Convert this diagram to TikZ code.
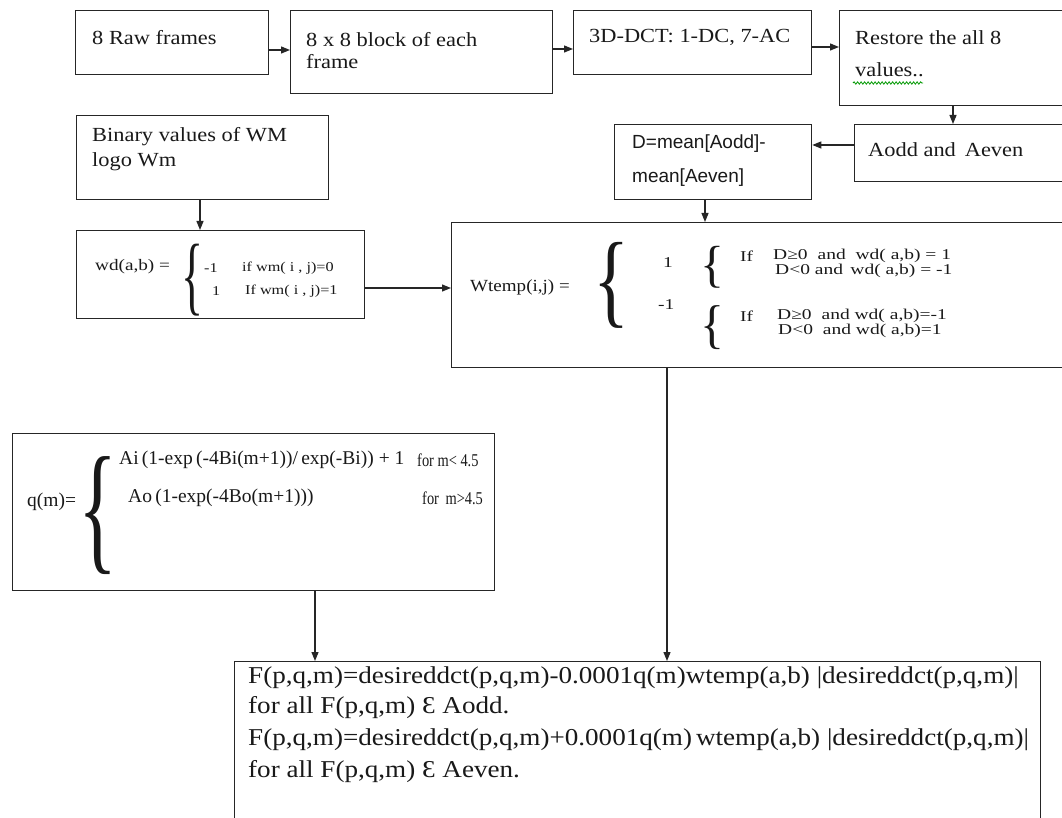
\documentclass[tikz,border=0pt]{standalone}
\usepackage{fontspec}
\usepackage{graphicx}
\usetikzlibrary{arrows.meta,decorations.pathmorphing}
\setmainfont{Liberation Serif}
\newfontfamily\bdf[FakeStretch=1.12]{Liberation Serif}
\newfontfamily\fmf[FakeStretch=1.3]{Liberation Serif}
\newfontfamily\fmg[FakeStretch=1.2]{Liberation Serif}
\newfontfamily\fmh[FakeStretch=1.12]{Liberation Serif}
\newfontfamily\cnf[FakeStretch=0.8]{Liberation Serif}
\newfontfamily\saf{Liberation Sans}
\newcommand\bodytxt{\bdf\fontsize{20}{24}\selectfont}
\newcommand\bigtxt{\bdf\fontsize{24.2}{30}\selectfont}
\newcommand\sanstxt{\saf\fontsize{19}{23}\selectfont}
\newcommand\wdlbl{\fmg\fontsize{16}{18}\selectfont}
\newcommand\wdtxt{\fmg\fontsize{13.5}{16}\selectfont}
\newcommand\wtlbl{\fmh\fontsize{17}{19}\selectfont}
\newcommand\wttxt{\fmf\fontsize{15}{17}\selectfont}
\newcommand\qtxt{\rmfamily\fontsize{19.5}{22}\selectfont}
\newcommand\qfor{\cnf\fontsize{18}{20}\selectfont}
\newcommand\mybrace[2]{\resizebox*{#1pt}{#2pt}{\rmfamily\fontsize{20}{20}\selectfont\{}}
\newcommand\boxnode[5]{\node[bx, minimum width={(#4-#2)*1pt}, minimum height={(#5-#3)*1pt}] (#1) at (#2,#3) {};}
\tikzset{
  bx/.style={draw=black!85, line width=1.3pt, rectangle, inner sep=0pt, anchor=north west},
  conn/.style={draw=black!85, line width=1.2pt, -{Triangle[length=9pt,width=7pt]}},
  lbl/.style={inner sep=0pt, anchor=base west, text=black!90},
  fml/.style={inner sep=0pt, anchor=west, text=black!90},
  brc/.style={inner sep=0pt, anchor=center, text=black!90},
}
\begin{document}
\begin{tikzpicture}[x=1pt,y=-1pt]
\useasboundingbox (0,0) rectangle (1062,818);
\clip (0,0) rectangle (1062,818);
\fill[white] (0,0) rectangle (1062,818);
% boxes
\boxnode{b1}{75}{10}{268}{74}
\boxnode{b2}{290}{10}{552}{93}
\boxnode{b3}{573}{10}{811}{74}
\boxnode{b4}{839}{10}{1080}{105}
\boxnode{b5}{854}{124}{1080}{181}
\boxnode{b6}{614}{124}{811}{199}
\boxnode{b7}{76}{115}{328}{199}
\boxnode{b8}{76}{230}{364}{318}
\boxnode{b9}{451}{222}{1080}{367}
\boxnode{b10}{12}{433}{494}{590}
\boxnode{b11}{234}{661}{1040}{840}
% box texts
\node[lbl,font=\bodytxt] (t1) at (92,45) {8 Raw frames};
\node[lbl,font=\bodytxt] (t2a) at (306,47) {8 x 8 block of each};
\node[lbl,font=\bodytxt] (t2b) at (306,69) {frame};
\node[lbl,font=\bodytxt] (t3) at (589,43) {3D-DCT: 1-DC, 7-AC};
\node[lbl,font=\bodytxt] (t4a) at (855,45) {Restore the all 8};
\node[lbl,font=\bodytxt] (t4b) at (855,77) {values..};
\draw[green!60!black, line width=0.8pt, decorate, decoration={snake, amplitude=1.2pt, segment length=3.5pt}] (853,83) -- (923,83);
\node[lbl,font=\bodytxt] (t5) at (868,157) {Aodd and\, Aeven};
\node[lbl,font=\sanstxt] (t6a) at (632,149) {D=mean[Aodd]-};
\node[lbl,font=\sanstxt] (t6b) at (632,183) {mean[Aeven]};
\node[lbl,font=\bodytxt] (t7a) at (92,142) {Binary values of WM};
\node[lbl,font=\bodytxt] (t7b) at (92,167) {logo Wm};
% wd box
\node[fml,font=\wdlbl] (w0) at (95,267) {wd(a,b) =};
\node[brc] (w1) at (192,280) {\mybrace{22}{72}};
\node[fml,font=\wdtxt] (w2) at (204,268) {-1};
\node[fml,font=\wdtxt] (w3) at (242,268) {if wm( i , j)=0};
\node[fml,font=\wdtxt] (w4) at (212,291) {1};
\node[fml,font=\wdtxt] (w5) at (245,291) {If wm( i , j)=1};
% wtemp box
\node[fml,font=\wtlbl] (x0) at (470,287) {Wtemp(i,j) =};
\node[brc] (x1) at (611,285) {\mybrace{36}{86}};
\node[fml,font=\wttxt] (x2) at (663,263) {1};
\node[fml,font=\wttxt] (x3) at (658,305) {-1};
\node[brc] (x4) at (712,267) {\mybrace{24}{42}};
\node[brc] (x5) at (712,328) {\mybrace{24}{44}};
\node[fml,font=\wttxt] (x6) at (740,256) {If};
\node[fml,font=\wttxt] (x7) at (740,316) {If};
\node[fml,font=\wttxt] (x8) at (773,256) {D≥0\,\, and\,\, wd( a,b) = 1};
\node[fml,font=\wttxt] (x9) at (775,271) {D<0 and\, wd( a,b) = -1};
\node[fml,font=\wttxt] (x10) at (777,316) {D≥0\,\, and wd( a,b)=-1};
\node[fml,font=\wttxt] (x11) at (778,331) {D<0\,\, and wd( a,b)=1};
% q box
\node[fml,font=\qtxt] (q0) at (27,502) {q(m)=};
\node[brc] (q1) at (98.5,516) {\mybrace{39}{118}};
\node[fml,font=\qtxt] (q2) at (119,460) {Ai\,(1-exp\,(-4Bi(m+1))/\,exp(-Bi)) + 1};
\node[fml,font=\qfor] (q3) at (417,460) {for m< 4.5};
\node[fml,font=\qtxt] (q4) at (128,498) {Ao\,(1-exp(-4Bo(m+1)))};
\node[fml,font=\qfor] (q5) at (422,498) {for\, m>4.5};
% bottom box
\node[lbl,font=\bigtxt] (f1) at (248,683) {F(p,q,m)=desireddct(p,q,m)-0.0001q(m)wtemp(a,b) |desireddct(p,q,m)|};
\node[lbl,font=\bigtxt] (f2) at (248,713) {for all F(p,q,m) Ɛ Aodd.};
\node[lbl,font=\bigtxt] (f3) at (248,745) {F(p,q,m)=desireddct(p,q,m)+0.0001q(m)\,wtemp(a,b) |desireddct(p,q,m)|};
\node[lbl,font=\bigtxt] (f4) at (248,777) {for all F(p,q,m) Ɛ Aeven.};
% connectors
\draw[conn] (b1.east |- 0,50) -- (b2.west |- 0,50);
\draw[conn] (b2.east |- 0,49) -- (b3.west |- 0,49);
\draw[conn] (b3.east |- 0,47) -- (b4.west |- 0,47);
\draw[conn] (b4.south -| 953,0) -- (b5.north -| 953,0);
\draw[conn] (b5.west |- 0,145) -- (b6.east |- 0,145);
\draw[conn] (b6.south -| 705,0) -- (b9.north -| 705,0);
\draw[conn] (b7.south -| 200,0) -- (b8.north -| 200,0);
\draw[conn] (b8.east |- 0,288) -- (b9.west |- 0,288);
\draw[conn] (b9.south -| 667,0) -- (b11.north -| 667,0);
\draw[conn] (b10.south -| 315,0) -- (b11.north -| 315,0);
\end{tikzpicture}
\end{document}
